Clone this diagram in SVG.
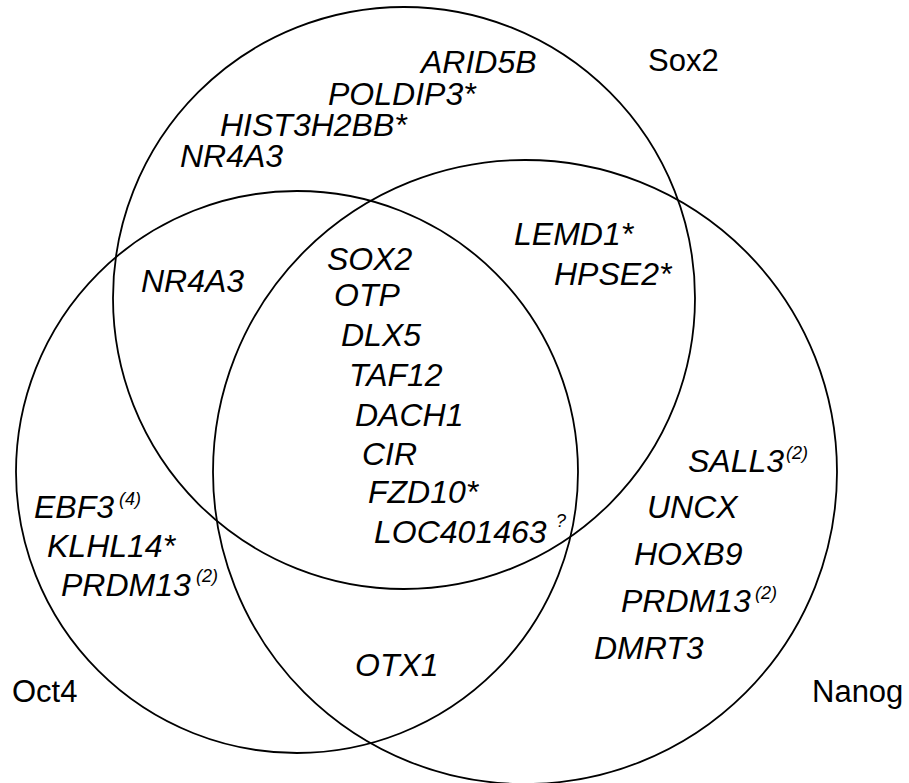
<svg xmlns="http://www.w3.org/2000/svg" width="909" height="783" viewBox="0 0 909 783">
<style>
  .set { fill: none; stroke: #000; stroke-width: 1.8; }
  .gene { font-family: "Liberation Sans", Arial, sans-serif; font-style: italic; font-size: 32px; fill: #000; }
  .sup { font-size: 18px; }
  .lbl { font-family: "Liberation Sans", Arial, sans-serif; font-size: 31px; fill: #000; }
</style>
<rect width="909" height="783" fill="#fff"/>
<g id="sets">
  <g id="set-sox2">
    <circle class="set" cx="404" cy="298" r="291"/>
    <text class="lbl" x="648" y="71">Sox2</text>
  </g>
  <g id="set-oct4">
    <circle class="set" cx="297" cy="472" r="281"/>
    <text class="lbl" x="12" y="702">Oct4</text>
  </g>
  <g id="set-nanog">
    <circle class="set" cx="525" cy="472" r="312"/>
    <text class="lbl" x="812" y="702">Nanog</text>
  </g>
</g>
<g id="sox2-only">
  <text class="gene" x="421" y="73">ARID5B</text>
  <text class="gene" x="328" y="105">POLDIP3*</text>
  <text class="gene" x="220" y="136">HIST3H2BB*</text>
  <text class="gene" x="180" y="167">NR4A3</text>
</g>
<g id="sox2-oct4">
  <text class="gene" x="141" y="292">NR4A3</text>
</g>
<g id="sox2-nanog">
  <text class="gene" x="514" y="245">LEMD1*</text>
  <text class="gene" x="554" y="285">HPSE2*</text>
</g>
<g id="all-three">
  <text class="gene" x="327" y="270">SOX2</text>
  <text class="gene" x="334" y="306">OTP</text>
  <text class="gene" x="341" y="346">DLX5</text>
  <text class="gene" x="349" y="386">TAF12</text>
  <text class="gene" x="355" y="426">DACH1</text>
  <text class="gene" x="362" y="465">CIR</text>
  <text class="gene" x="368" y="503">FZD10*</text>
  <text class="gene" x="374" y="543">LOC401463<tspan class="sup" x="556" y="527">?</tspan></text>
</g>
<g id="oct4-only">
  <text class="gene" x="34" y="518">EBF3<tspan class="sup" x="119" y="505">(4)</tspan></text>
  <text class="gene" x="47" y="557">KLHL14*</text>
  <text class="gene" x="61" y="596">PRDM13<tspan class="sup" x="196" y="582">(2)</tspan></text>
</g>
<g id="oct4-nanog">
  <text class="gene" x="355" y="676">OTX1</text>
</g>
<g id="nanog-only">
  <text class="gene" x="688" y="472">SALL3<tspan class="sup" x="786" y="459">(2)</tspan></text>
  <text class="gene" x="647" y="518">UNCX</text>
  <text class="gene" x="634" y="565">HOXB9</text>
  <text class="gene" x="621" y="612">PRDM13<tspan class="sup" x="755" y="599">(2)</tspan></text>
  <text class="gene" x="594" y="659">DMRT3</text>
</g>
</svg>
